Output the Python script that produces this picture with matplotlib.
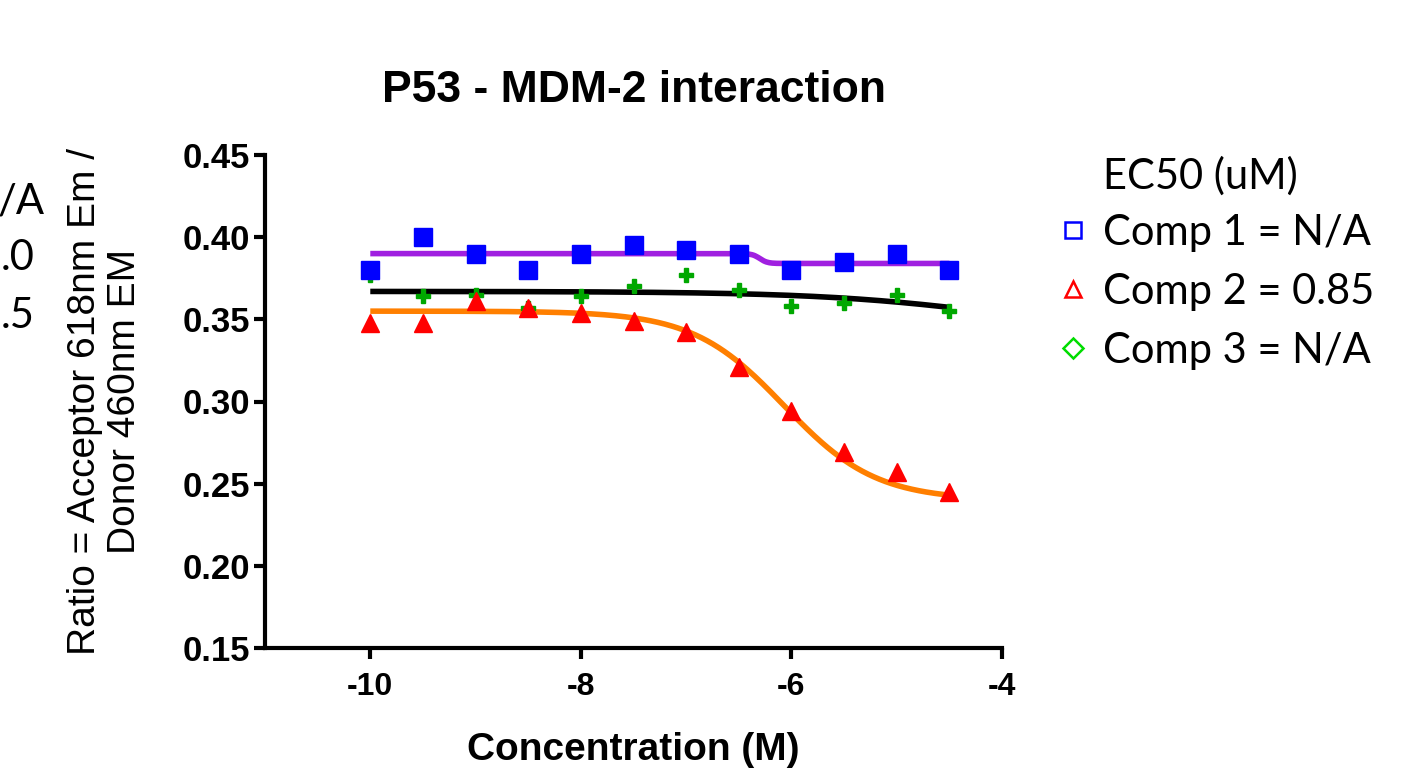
import numpy as np
import matplotlib
matplotlib.use("Agg")
import matplotlib.pyplot as plt
from matplotlib.lines import Line2D

# ---- data ----
log_conc = [-10, -9.5, -9, -8.5, -8, -7.5, -7, -6.5, -6, -5.5, -5, -4.5]
comp1 = [0.380, 0.400, 0.390, 0.380, 0.390, 0.395, 0.392, 0.390, 0.380, 0.385, 0.390, 0.380]
comp2 = [0.348, 0.348, 0.361, 0.357, 0.354, 0.349, 0.342, 0.321, 0.294, 0.269, 0.257, 0.245]
comp3 = [0.377, 0.364, 0.365, 0.357, 0.364, 0.370, 0.377, 0.368, 0.358, 0.360, 0.365, 0.355]
# fitted 4PL parameters (top, bottom, logEC50, hill)
fit1 = (0.390, 0.384, -6.3, 12.0)
fit2 = (0.355, 0.240, -6.07, 1.0)
fit3 = (0.367, 0.340, -4.0, 0.5)
legend_labels = ["Comp 1 = N/A", "Comp 2 = 0.85", "Comp 3 = N/A"]
legend_title = "EC50 (uM)"
left_remnants = ["/A", ".0", ".5"]
title = "P53 - MDM-2 interaction"
xlabel = "Concentration (M)"
ylabel = "Ratio = Acceptor 618nm Em /\nDonor 460nm EM"
yticks = [0.15, 0.20, 0.25, 0.30, 0.35, 0.40, 0.45]
xticks = [-10, -8, -6, -4]


def four_pl(x, p):
    top, bottom, logec, hill = p
    return bottom + (top - bottom) / (1 + 10 ** ((x - logec) * hill))


sans = ["Liberation Sans", "DejaVu Sans"]
legfont = ["Lato", "DejaVu Sans"]
W, H = 1418, 773

fig = plt.figure(figsize=(14.18, 7.73), dpi=100)
ax = fig.add_axes([265 / W, 1 - 648 / H, (1002 - 265) / W, (648 - 155) / H])

xs = np.linspace(-10, -4.5, 400)
ax.plot(xs, four_pl(xs, fit1), color="#a020e0", lw=4, zorder=2, solid_capstyle="butt")
ax.plot(xs, four_pl(xs, fit3), color="black", lw=4, zorder=2, solid_capstyle="butt")
ax.plot(xs, four_pl(xs, fit2), color="#ff7f00", lw=4, zorder=2, solid_capstyle="butt")

ax.plot(log_conc, comp3, ls="none", marker="P", ms=10, color="#00a800", mec="#00a800", zorder=3)
ax.plot(log_conc, comp2, ls="none", marker="^", ms=13, color="#ff0000", mec="#ff0000", zorder=4)
ax.plot(log_conc, comp1, ls="none", marker="s", ms=13, color="#0000ff", mec="#0000ff", zorder=5)

ax.set_xlim(-11, -4)
ax.set_ylim(0.15, 0.45)
ax.set_xticks(xticks)
ax.set_xticklabels([str(v) for v in xticks])
ax.set_yticks(yticks)
ax.set_yticklabels([f"{v:.2f}" for v in yticks])
for s in ["top", "right"]:
    ax.spines[s].set_visible(False)
for s in ["left", "bottom"]:
    ax.spines[s].set_linewidth(3)
ax.tick_params(width=3, length=8, direction="out", labelsize=23)
ax.tick_params(axis="y", pad=3, labelsize=25)
ax.tick_params(axis="x", pad=9)
for lab in ax.get_xticklabels() + ax.get_yticklabels():
    lab.set_fontfamily(sans)
    lab.set_fontweight("bold")

ax.set_title(title, fontsize=32, fontweight="bold", family=sans, pad=38)
ax.set_xlabel(xlabel, fontsize=28, fontweight="bold", family=sans, labelpad=22)
ax.set_ylabel(ylabel, fontsize=28, family=sans, labelpad=28, linespacing=1.15)

handles = [
    Line2D([], [], ls="none", marker="s", ms=12, mfc="white", mec="#0000ff", mew=1.8),
    Line2D([], [], ls="none", marker="^", ms=12, mfc="white", mec="#ff0000", mew=1.8),
    Line2D([], [], ls="none", marker="D", ms=10, mfc="white", mec="#00dd00", mew=1.8),
]
leg = fig.legend(handles, legend_labels, loc="upper left",
                 bbox_to_anchor=(1058 / W, 1 - 214 / H), frameon=False,
                 prop={"family": legfont, "size": 30},
                 handlelength=0.7, handletextpad=0.37, labelspacing=0.5,
                 borderpad=0, borderaxespad=0)
fig.text(1103 / W, 1 - 176 / H, legend_title, ha="left", va="center", fontsize=30, family=legfont)

for t, x, ha, y in zip(left_remnants, [45, 1, 1], ["right", "left", "left"], [202, 258, 316]):
    fig.text(x / W, 1 - y / H, t, ha=ha, va="center", fontsize=30, family=legfont)

fig.savefig("out.png", dpi=100)
